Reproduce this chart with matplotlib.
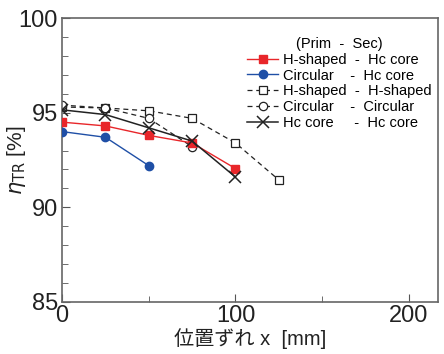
import matplotlib.pyplot as plt
from matplotlib.ticker import MultipleLocator

plt.rcParams['font.family'] = ['Liberation Sans', 'Noto Sans CJK JP', 'DejaVu Sans']

# ずれ量 [mm]
x_all = [0, 25, 50, 75, 100, 125]

h_hc = [94.5, 94.3, 93.8, 93.4, 92.05]      # H-shaped - Hc core
c_hc = [94.0, 93.7, 92.2]                   # Circular - Hc core
h_h = [95.3, 95.25, 95.1, 94.7, 93.4, 91.45]  # H-shaped - H-shaped
c_c = [95.4, 95.25, 94.7, 93.2]             # Circular - Circular
hc_hc = [95.15, 94.9, 94.2, 93.5, 91.6]     # Hc core - Hc core

labels = ['H-shaped  -  Hc core', 'Circular    -  Hc core',
          'H-shaped  -  H-shaped', 'Circular    -  Circular',
          'Hc core     -  Hc core']

fig = plt.figure(figsize=(4.44, 3.54), dpi=100)
ax = fig.add_axes([0.14, 0.147, 0.847, 0.802])

ax.plot(x_all[:len(h_hc)], h_hc, color='#e8262a', lw=1.0, marker='s', ms=6,
        mec='#e8262a', label=labels[0], zorder=3)
ax.plot(x_all[:len(c_hc)], c_hc, color='#1f4fa6', lw=1.0, marker='o', ms=6,
        label=labels[1], zorder=3)
ax.plot(x_all[:len(h_h)], h_h, color='#222222', lw=0.9, ls=(0, (4, 3)), marker='s',
        ms=6, mfc='white', mec='#222222', mew=0.9, label=labels[2], zorder=2)
ax.plot(x_all[:len(c_c)], c_c, color='#222222', lw=0.9, ls=(0, (4, 3)), marker='o',
        ms=6, mfc='white', mec='#222222', mew=0.9, label=labels[3], zorder=2)
ax.plot(x_all[:len(hc_hc)], hc_hc, color='#222222', lw=1.1, marker='x', ms=9,
        mew=1.1, label=labels[4], zorder=4)

ax.set_xlim(0, 217)
ax.set_ylim(85, 100)
ax.xaxis.set_major_locator(MultipleLocator(100))
ax.xaxis.set_minor_locator(MultipleLocator(50))
ax.yaxis.set_major_locator(MultipleLocator(5))
ax.yaxis.set_minor_locator(MultipleLocator(1))
ax.tick_params(which='both', direction='in', color='#555555', labelsize=17,
               labelcolor='#222222')
ax.tick_params(which='major', length=6)
ax.tick_params(which='minor', length=4)
ax.tick_params(axis='x', pad=2)
ax.tick_params(axis='y', pad=3)
for s in ax.spines.values():
    s.set_color('#666666')
    s.set_linewidth(1.2)

ax.set_xlabel('位置ずれ x  [mm]', fontsize=14.5, color='#222222', labelpad=1)
ax.set_ylabel(r'$\eta_{\mathrm{TR}}$ [%]', fontsize=15, color='#222222')
ax.yaxis.set_label_coords(-0.09, 0.5)

leg = ax.legend(title='(Prim  -  Sec)', loc='upper right', bbox_to_anchor=(1.01, 0.97),
                frameon=False, fontsize=10.5, title_fontsize=10.5, handlelength=2.1,
                handletextpad=0.35, labelspacing=0.13, borderpad=0.2)

fig.savefig('out.png', dpi=100)
